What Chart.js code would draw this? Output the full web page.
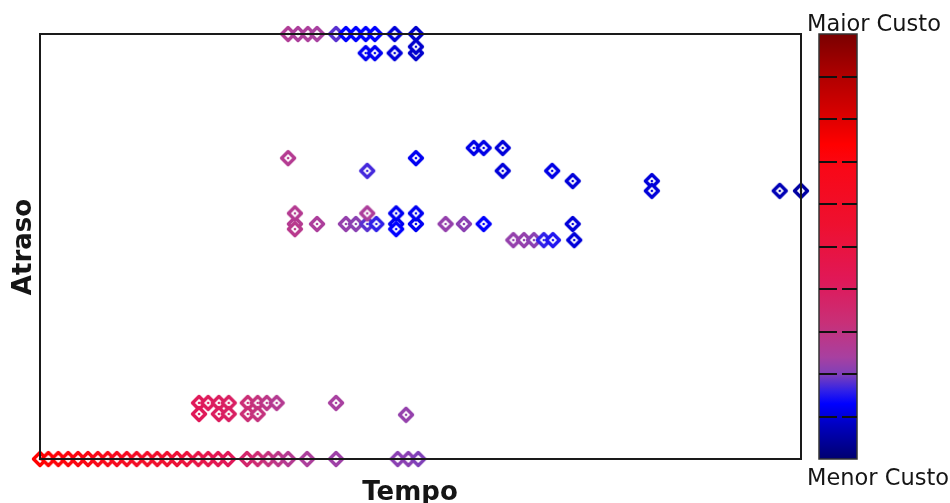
<!DOCTYPE html>
<html>
<head>
<meta charset="utf-8">
<script src="https://cdn.jsdelivr.net/npm/chart.js@4.4.1/dist/chart.umd.min.js"></script>
<style>
  html, body { margin: 0; background: #fff; }
  #wrap { width: 950px; height: 503px; position: relative; }
</style>
</head>
<body>
<div id="wrap"><canvas id="custoChart"></canvas></div>
<script>
// Tempo (x), Atraso (y), Custo (0 = menor, 1 = maior) for each solution
const tempo = [
  0, 1.1, 2.4, 3.7, 5.0, 6.3, 7.6, 8.9, 10.1, 11.4, 12.7, 14.1, 15.4, 16.7, 18.0,
  19.3, 20.8, 22.1, 23.4, 24.7, 27.2, 28.6, 30.0, 31.3, 32.6, 35.1, 38.9, 47.0, 48.4, 49.7,
  20.9, 22.1, 23.5, 24.8, 27.3, 28.6, 29.8, 31.1, 38.9,
  20.9, 23.5, 24.8, 27.3, 28.6, 48.1,
  33.5, 36.4, 40.2, 41.5, 43.0, 44.2, 46.8, 49.4, 53.3, 55.7, 58.3, 70.0,
  33.5, 43.0, 46.8, 49.4,
  33.5, 46.8,
  62.2, 63.6, 64.9, 66.2, 67.4, 70.2,
  32.6, 43.0, 49.4, 57.0, 58.3, 60.8, 60.8, 67.3, 70.0, 80.4, 80.4, 97.2, 100,
  32.6, 33.9, 35.2, 36.4, 38.9, 40.2, 41.5, 42.8, 44.0, 46.6, 49.4,
  42.8, 44.0, 46.6, 49.4, 49.4
];
const atraso = [
  0, 0, 0, 0, 0, 0, 0, 0, 0, 0, 0, 0, 0, 0, 0,
  0, 0, 0, 0, 0, 0, 0, 0, 0, 0, 0, 0, 0, 0, 0,
  13.2, 13.2, 13.2, 13.2, 13.2, 13.2, 13.2, 13.2, 13.2,
  10.6, 10.6, 10.6, 10.6, 10.6, 10.4,
  55.3, 55.3, 55.3, 55.3, 55.3, 55.3, 55.3, 55.3, 55.3, 55.3, 55.3, 55.3,
  57.8, 57.8, 57.8, 57.8,
  54.1, 54.1,
  51.5, 51.5, 51.5, 51.5, 51.5, 51.5,
  70.8, 67.8, 70.8, 73.2, 73.2, 73.2, 67.8, 67.8, 65.4, 65.4, 63.1, 63.1, 63.1,
  100, 100, 100, 100, 100, 100, 100, 100, 100, 100, 100,
  95.5, 95.5, 95.5, 95.5, 97.0
];
const custo = [
  0.74, 0.73, 0.72, 0.71, 0.70, 0.69, 0.68, 0.67, 0.65, 0.63, 0.61, 0.59, 0.57, 0.55, 0.53,
  0.51, 0.48, 0.46, 0.44, 0.42, 0.36, 0.34, 0.31, 0.29, 0.27, 0.25, 0.23, 0.21, 0.21, 0.20,
  0.42, 0.41, 0.40, 0.39, 0.33, 0.31, 0.29, 0.27, 0.24,
  0.42, 0.40, 0.39, 0.33, 0.31, 0.22,
  0.27, 0.25, 0.22, 0.21, 0.18, 0.16, 0.12, 0.12, 0.22, 0.21, 0.13, 0.10,
  0.27, 0.25, 0.12, 0.12,
  0.28, 0.13,
  0.22, 0.22, 0.21, 0.16, 0.15, 0.10,
  0.27, 0.17, 0.12, 0.11, 0.11, 0.10, 0.10, 0.11, 0.10, 0.10, 0.10, 0.07, 0.05,
  0.26, 0.25, 0.25, 0.24, 0.18, 0.13, 0.13, 0.13, 0.13, 0.10, 0.09,
  0.12, 0.12, 0.10, 0.09, 0.09
];

// colour scale (position 0 = menor custo, 1 = maior custo)
const scaleStops = [0, 0.08, 0.13, 0.16, 0.20, 0.24, 0.32, 0.42, 0.55, 0.68, 0.74, 0.82, 0.90, 1];
const scaleColors = ['#000070', '#0000c0', '#0000ff', '#3020e8', '#8040b8', '#a840a0', '#c83078',
  '#e01858', '#ee1030', '#f80818', '#ff0000', '#d40000', '#b00000', '#7a0000'];
const scaleTicks = [0.1, 0.2, 0.3, 0.4, 0.5, 0.6, 0.7, 0.8, 0.9];

function hexRgb(h) {
  return [parseInt(h.slice(1, 3), 16), parseInt(h.slice(3, 5), 16), parseInt(h.slice(5, 7), 16)];
}

function custoColor(t) {
  for (let i = 1; i < scaleStops.length; i++) {
    if (t <= scaleStops[i]) {
      const f = (t - scaleStops[i - 1]) / (scaleStops[i] - scaleStops[i - 1]);
      const a = hexRgb(scaleColors[i - 1]), b = hexRgb(scaleColors[i]);
      const c = a.map((v, k) => Math.round(v + (b[k] - v) * f));
      return 'rgb(' + c.join(',') + ')';
    }
  }
  return scaleColors[scaleColors.length - 1];
}

// diamond marker with a small centre dot
const markerCache = {};
function marker(color) {
  if (markerCache[color]) return markerCache[color];
  const c = document.createElement('canvas');
  c.width = 20; c.height = 20;
  const g = c.getContext('2d');
  g.beginPath();
  g.moveTo(10, 3.5); g.lineTo(16.5, 10); g.lineTo(10, 16.5); g.lineTo(3.5, 10); g.closePath();
  g.fillStyle = '#fff';
  g.fill();
  g.lineWidth = 3.4;
  g.lineJoin = 'round';
  g.strokeStyle = color;
  g.stroke();
  g.beginPath();
  g.arc(10, 10, 1.3, 0, Math.PI * 2);
  g.fillStyle = color;
  g.fill();
  markerCache[color] = c;
  return c;
}

const points = tempo.map((x, i) => ({ x: x, y: atraso[i] }));

const framePlugin = {
  id: 'framePlugin',
  afterDatasetsDraw(chart) {
    const { ctx, chartArea: a } = chart;
    ctx.save();
    ctx.strokeStyle = '#1a1a1a';
    ctx.lineWidth = 2;
    ctx.strokeRect(a.left, a.top, a.right - a.left, a.bottom - a.top);

    ctx.fillStyle = '#151515';
    ctx.font = 'bold 26px "DejaVu Sans"';
    ctx.textAlign = 'center';
    ctx.textBaseline = 'alphabetic';
    ctx.fillText('Tempo', 410, 500);
    ctx.translate(31, 247);
    ctx.rotate(-Math.PI / 2);
    ctx.fillText('Atraso', 0, 0);
    ctx.restore();

    // colour bar
    const bx = 819, bw = 38, top = a.top, bottom = a.bottom;
    ctx.save();
    const grad = ctx.createLinearGradient(0, bottom, 0, top);
    scaleStops.forEach((s, i) => grad.addColorStop(s, scaleColors[i]));
    ctx.fillStyle = grad;
    ctx.fillRect(bx, top, bw, bottom - top);
    ctx.strokeStyle = '#333';
    ctx.lineWidth = 1.5;
    ctx.strokeRect(bx, top, bw, bottom - top);
    ctx.strokeStyle = '#111';
    ctx.lineWidth = 2;
    scaleTicks.forEach(t => {
      const y = Math.round(bottom - t * (bottom - top));
      ctx.beginPath();
      ctx.moveTo(bx, y); ctx.lineTo(bx + 18, y);
      ctx.moveTo(bx + 23, y); ctx.lineTo(bx + bw, y);
      ctx.stroke();
    });
    ctx.fillStyle = '#151515';
    ctx.font = '22.5px "DejaVu Sans"';
    ctx.textAlign = 'left';
    ctx.fillText('Maior Custo', 807, 31);
    ctx.fillText('Menor Custo', 807, 485);
    ctx.restore();
  }
};

new Chart(document.getElementById('custoChart'), {
  type: 'scatter',
  data: {
    datasets: [{
      label: 'Soluções',
      data: points,
      pointStyle: ctx => marker(custoColor(custo[ctx.dataIndex])),
      pointRadius: 8,
      clip: false
    }]
  },
  options: {
    responsive: true,
    maintainAspectRatio: false,
    animation: false,
    events: [],
    layout: { padding: { left: 40, top: 34, right: 149, bottom: 44 } },
    plugins: {
      legend: { display: false },
      tooltip: { enabled: false }
    },
    scales: {
      x: { type: 'linear', min: 0, max: 100, display: false },
      y: { type: 'linear', min: 0, max: 100, display: false }
    }
  },
  plugins: [framePlugin]
});
</script>
</body>
</html>
